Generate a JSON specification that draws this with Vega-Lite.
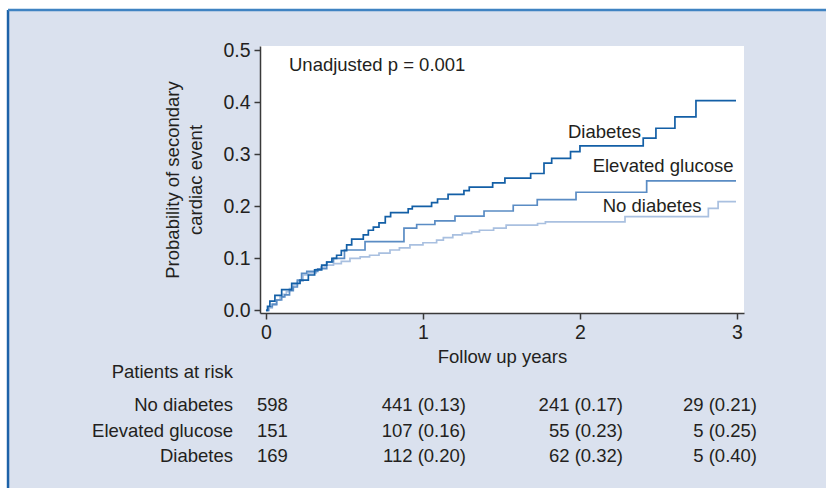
{
  "$schema": "https://vega.github.io/schema/vega-lite/v6.json",
  "width": 484,
  "height": 267,
  "autosize": "none",
  "padding": {"left": 260, "top": 46, "right": 82, "bottom": 175},
  "background": "white",
  "resolve": {"axis": {"x": "independent", "y": "independent"}},
  "config": {
    "font": "Liberation Sans, Arial, sans-serif",
    "view": {"stroke": null},
    "text": {"fontSize": 18.5, "color": "#231f20", "font": "Liberation Sans, Arial, sans-serif"},
    "axis": {
      "labelFont": "Liberation Sans, Arial, sans-serif",
      "titleFont": "Liberation Sans, Arial, sans-serif",
      "labelFontSize": 19.5, "titleFontSize": 18.5, "titleFontWeight": "normal",
      "labelColor": "#231f20", "titleColor": "#231f20",
      "domainColor": "#3a3a3a", "tickColor": "#3a3a3a",
      "domainWidth": 1.5, "tickWidth": 1.5, "tickSize": 6,
      "grid": false
    }
  },
  "datasets": {
    "curves": [
      {"group": "No diabetes", "year": 0, "prob": 0},
      {"group": "No diabetes", "year": 0.02, "prob": 0.005},
      {"group": "No diabetes", "year": 0.04, "prob": 0.01},
      {"group": "No diabetes", "year": 0.068, "prob": 0.02},
      {"group": "No diabetes", "year": 0.09, "prob": 0.026},
      {"group": "No diabetes", "year": 0.11, "prob": 0.031},
      {"group": "No diabetes", "year": 0.13, "prob": 0.036},
      {"group": "No diabetes", "year": 0.15, "prob": 0.042},
      {"group": "No diabetes", "year": 0.174, "prob": 0.049},
      {"group": "No diabetes", "year": 0.2, "prob": 0.056},
      {"group": "No diabetes", "year": 0.236, "prob": 0.068},
      {"group": "No diabetes", "year": 0.27, "prob": 0.072},
      {"group": "No diabetes", "year": 0.32, "prob": 0.079},
      {"group": "No diabetes", "year": 0.35, "prob": 0.083},
      {"group": "No diabetes", "year": 0.376, "prob": 0.087},
      {"group": "No diabetes", "year": 0.43, "prob": 0.09},
      {"group": "No diabetes", "year": 0.48, "prob": 0.094},
      {"group": "No diabetes", "year": 0.535, "prob": 0.1},
      {"group": "No diabetes", "year": 0.6, "prob": 0.103},
      {"group": "No diabetes", "year": 0.66, "prob": 0.106},
      {"group": "No diabetes", "year": 0.72, "prob": 0.11},
      {"group": "No diabetes", "year": 0.79, "prob": 0.116},
      {"group": "No diabetes", "year": 0.85, "prob": 0.12},
      {"group": "No diabetes", "year": 0.917, "prob": 0.126},
      {"group": "No diabetes", "year": 1.0, "prob": 0.13},
      {"group": "No diabetes", "year": 1.087, "prob": 0.135},
      {"group": "No diabetes", "year": 1.13, "prob": 0.14},
      {"group": "No diabetes", "year": 1.19, "prob": 0.145},
      {"group": "No diabetes", "year": 1.25, "prob": 0.148},
      {"group": "No diabetes", "year": 1.31, "prob": 0.151},
      {"group": "No diabetes", "year": 1.36, "prob": 0.154},
      {"group": "No diabetes", "year": 1.45, "prob": 0.158},
      {"group": "No diabetes", "year": 1.53, "prob": 0.164},
      {"group": "No diabetes", "year": 1.73, "prob": 0.167},
      {"group": "No diabetes", "year": 1.78, "prob": 0.17},
      {"group": "No diabetes", "year": 2.287, "prob": 0.18},
      {"group": "No diabetes", "year": 2.818, "prob": 0.196},
      {"group": "No diabetes", "year": 2.88, "prob": 0.209},
      {"group": "No diabetes", "year": 2.994, "prob": 0.209},
      {"group": "Elevated glucose", "year": 0, "prob": 0},
      {"group": "Elevated glucose", "year": 0.015, "prob": 0.007},
      {"group": "Elevated glucose", "year": 0.04, "prob": 0.012},
      {"group": "Elevated glucose", "year": 0.068, "prob": 0.02},
      {"group": "Elevated glucose", "year": 0.1, "prob": 0.026},
      {"group": "Elevated glucose", "year": 0.12, "prob": 0.03},
      {"group": "Elevated glucose", "year": 0.15, "prob": 0.038},
      {"group": "Elevated glucose", "year": 0.174, "prob": 0.045},
      {"group": "Elevated glucose", "year": 0.2, "prob": 0.058},
      {"group": "Elevated glucose", "year": 0.227, "prob": 0.071},
      {"group": "Elevated glucose", "year": 0.26, "prob": 0.075},
      {"group": "Elevated glucose", "year": 0.33, "prob": 0.08},
      {"group": "Elevated glucose", "year": 0.387, "prob": 0.093},
      {"group": "Elevated glucose", "year": 0.43, "prob": 0.1},
      {"group": "Elevated glucose", "year": 0.5, "prob": 0.116},
      {"group": "Elevated glucose", "year": 0.631, "prob": 0.132},
      {"group": "Elevated glucose", "year": 0.879, "prob": 0.158},
      {"group": "Elevated glucose", "year": 0.96, "prob": 0.165},
      {"group": "Elevated glucose", "year": 1.076, "prob": 0.172},
      {"group": "Elevated glucose", "year": 1.204, "prob": 0.181},
      {"group": "Elevated glucose", "year": 1.389, "prob": 0.191},
      {"group": "Elevated glucose", "year": 1.575, "prob": 0.202},
      {"group": "Elevated glucose", "year": 1.728, "prob": 0.213},
      {"group": "Elevated glucose", "year": 1.975, "prob": 0.227},
      {"group": "Elevated glucose", "year": 2.425, "prob": 0.249},
      {"group": "Elevated glucose", "year": 2.994, "prob": 0.249},
      {"group": "Diabetes", "year": 0, "prob": 0},
      {"group": "Diabetes", "year": 0.01, "prob": 0.008},
      {"group": "Diabetes", "year": 0.025, "prob": 0.018},
      {"group": "Diabetes", "year": 0.057, "prob": 0.029},
      {"group": "Diabetes", "year": 0.1, "prob": 0.04},
      {"group": "Diabetes", "year": 0.164, "prob": 0.052},
      {"group": "Diabetes", "year": 0.217, "prob": 0.058},
      {"group": "Diabetes", "year": 0.27, "prob": 0.068},
      {"group": "Diabetes", "year": 0.31, "prob": 0.078},
      {"group": "Diabetes", "year": 0.355, "prob": 0.087},
      {"group": "Diabetes", "year": 0.387, "prob": 0.093},
      {"group": "Diabetes", "year": 0.42, "prob": 0.1},
      {"group": "Diabetes", "year": 0.45, "prob": 0.106},
      {"group": "Diabetes", "year": 0.48, "prob": 0.115},
      {"group": "Diabetes", "year": 0.514, "prob": 0.126},
      {"group": "Diabetes", "year": 0.546, "prob": 0.137},
      {"group": "Diabetes", "year": 0.62, "prob": 0.145},
      {"group": "Diabetes", "year": 0.652, "prob": 0.154},
      {"group": "Diabetes", "year": 0.684, "prob": 0.16},
      {"group": "Diabetes", "year": 0.72, "prob": 0.168},
      {"group": "Diabetes", "year": 0.76, "prob": 0.18},
      {"group": "Diabetes", "year": 0.794, "prob": 0.188},
      {"group": "Diabetes", "year": 0.906, "prob": 0.195},
      {"group": "Diabetes", "year": 0.932, "prob": 0.2},
      {"group": "Diabetes", "year": 1.055, "prob": 0.207},
      {"group": "Diabetes", "year": 1.093, "prob": 0.214},
      {"group": "Diabetes", "year": 1.16, "prob": 0.223},
      {"group": "Diabetes", "year": 1.261, "prob": 0.23},
      {"group": "Diabetes", "year": 1.295, "prob": 0.237},
      {"group": "Diabetes", "year": 1.444, "prob": 0.245},
      {"group": "Diabetes", "year": 1.522, "prob": 0.254},
      {"group": "Diabetes", "year": 1.686, "prob": 0.263},
      {"group": "Diabetes", "year": 1.771, "prob": 0.283},
      {"group": "Diabetes", "year": 1.82, "prob": 0.292},
      {"group": "Diabetes", "year": 1.94, "prob": 0.305},
      {"group": "Diabetes", "year": 2.0, "prob": 0.316},
      {"group": "Diabetes", "year": 2.403, "prob": 0.331},
      {"group": "Diabetes", "year": 2.484, "prob": 0.35},
      {"group": "Diabetes", "year": 2.605, "prob": 0.372},
      {"group": "Diabetes", "year": 2.739, "prob": 0.403},
      {"group": "Diabetes", "year": 2.994, "prob": 0.403}
    ],
    "risk": [
      {"group": "No diabetes", "atStart": "598", "year1": "441 (0.13)", "year2": "241 (0.17)", "year3": "29 (0.21)"},
      {"group": "Elevated glucose", "atStart": "151", "year1": "107 (0.16)", "year2": "55 (0.23)", "year3": "5 (0.25)"},
      {"group": "Diabetes", "atStart": "169", "year1": "112 (0.20)", "year2": "62 (0.32)", "year3": "5 (0.40)"}
    ]
  },
  "layer": [
    {
      "data": {"values": [{}]},
      "mark": {"type": "rect", "fill": "#dae1ee"},
      "encoding": {
        "x": {"datum": -1.643, "axis": null}, "x2": {"datum": 3.8},
        "y": {"datum": 0.5772, "axis": null}, "y2": {"datum": -0.6}
      }
    },
    {
      "data": {"values": [{}]},
      "mark": {"type": "rule", "stroke": "#1d62a8", "strokeWidth": 2.5},
      "encoding": {
        "x": {"datum": -1.643, "axis": null},
        "y": {"datum": 0.5772, "axis": null}, "y2": {"datum": -0.6}
      }
    },
    {
      "data": {"values": [{}]},
      "mark": {"type": "rule", "stroke": "#3f83c2", "strokeWidth": 2.5},
      "encoding": {
        "x": {"datum": -1.643, "axis": null}, "x2": {"datum": 3.8},
        "y": {"datum": 0.5772, "axis": null}
      }
    },
    {
      "data": {"values": [{}]},
      "mark": {"type": "rect", "fill": "white"},
      "encoding": {
        "x": {"datum": -0.038, "axis": null}, "x2": {"datum": 3.045},
        "y": {"datum": -0.005, "axis": null}, "y2": {"datum": 0.508}
      }
    },
    {
      "data": {"name": "curves"},
      "mark": {"type": "line", "interpolate": "step-after", "strokeWidth": 1.7},
      "encoding": {
        "x": {"field": "year", "type": "quantitative",
          "scale": {"domain": [-0.038, 3.045], "nice": false, "zero": false},
          "axis": {"values": [0, 1, 2, 3], "format": "d", "title": "Follow up years", "labelPadding": 4, "titlePadding": 6, "zindex": 2}},
        "y": {"field": "prob", "type": "quantitative",
          "scale": {"domain": [-0.005, 0.508], "nice": false, "zero": false},
          "axis": {"values": [0, 0.1, 0.2, 0.3, 0.4, 0.5], "format": ".1f", "title": ["Probability of secondary", "cardiac event"], "labelPadding": 4, "titlePadding": 17, "titleLineHeight": 23, "zindex": 2}},
        "color": {"field": "group", "type": "nominal",
          "scale": {"domain": ["No diabetes", "Elevated glucose", "Diabetes"], "range": ["#a9c0e0", "#5a8cc4", "#135fa6"]},
          "legend": null},
        "order": {"field": "year"}
      }
    },
    {
      "data": {"values": [{}]},
      "mark": {"type": "text", "align": "left", "baseline": "middle", "text": "Unadjusted p = 0.001"},
      "encoding": {"x": {"datum": 0.1467, "axis": null}, "y": {"datum": 0.4715, "axis": null}}
    },
    {
      "data": {"values": [{}]},
      "mark": {"type": "text", "align": "left", "baseline": "middle", "text": "Diabetes"},
      "encoding": {"x": {"datum": 1.924, "axis": null}, "y": {"datum": 0.3433, "axis": null}}
    },
    {
      "data": {"values": [{}]},
      "mark": {"type": "text", "align": "left", "baseline": "middle", "text": "Elevated glucose"},
      "encoding": {"x": {"datum": 2.081, "axis": null}, "y": {"datum": 0.2774, "axis": null}}
    },
    {
      "data": {"values": [{}]},
      "mark": {"type": "text", "align": "left", "baseline": "middle", "text": "No diabetes"},
      "encoding": {"x": {"datum": 2.145, "axis": null}, "y": {"datum": 0.2006, "axis": null}}
    },
    {
      "data": {"values": [{}]},
      "mark": {"type": "text", "align": "right", "baseline": "middle", "text": "Patients at risk"},
      "encoding": {"x": {"datum": -0.21, "axis": null}, "y": {"datum": -0.1184, "axis": null}}
    },
    {
      "data": {"name": "risk"},
      "transform": [{"filter": "datum.group == 'No diabetes'"}],
      "encoding": {"y": {"datum": -0.1818, "axis": null}},
      "layer": [
        {"mark": {"type": "text", "align": "right", "baseline": "middle"}, "encoding": {"x": {"datum": -0.21, "axis": null}, "text": {"field": "group"}}},
        {"mark": {"type": "text", "align": "left", "baseline": "middle"}, "encoding": {"x": {"datum": -0.057, "axis": null}, "text": {"field": "atStart"}}},
        {"mark": {"type": "text", "align": "right", "baseline": "middle"}, "encoding": {"x": {"datum": 1.274, "axis": null}, "text": {"field": "year1"}}},
        {"mark": {"type": "text", "align": "right", "baseline": "middle"}, "encoding": {"x": {"datum": 2.274, "axis": null}, "text": {"field": "year2"}}},
        {"mark": {"type": "text", "align": "right", "baseline": "middle"}, "encoding": {"x": {"datum": 3.128, "axis": null}, "text": {"field": "year3"}}}
      ]
    },
    {
      "data": {"name": "risk"},
      "transform": [{"filter": "datum.group == 'Elevated glucose'"}],
      "encoding": {"y": {"datum": -0.2317, "axis": null}},
      "layer": [
        {"mark": {"type": "text", "align": "right", "baseline": "middle"}, "encoding": {"x": {"datum": -0.21, "axis": null}, "text": {"field": "group"}}},
        {"mark": {"type": "text", "align": "left", "baseline": "middle"}, "encoding": {"x": {"datum": -0.057, "axis": null}, "text": {"field": "atStart"}}},
        {"mark": {"type": "text", "align": "right", "baseline": "middle"}, "encoding": {"x": {"datum": 1.274, "axis": null}, "text": {"field": "year1"}}},
        {"mark": {"type": "text", "align": "right", "baseline": "middle"}, "encoding": {"x": {"datum": 2.274, "axis": null}, "text": {"field": "year2"}}},
        {"mark": {"type": "text", "align": "right", "baseline": "middle"}, "encoding": {"x": {"datum": 3.128, "axis": null}, "text": {"field": "year3"}}}
      ]
    },
    {
      "data": {"name": "risk"},
      "transform": [{"filter": "datum.group == 'Diabetes'"}],
      "encoding": {"y": {"datum": -0.2797, "axis": null}},
      "layer": [
        {"mark": {"type": "text", "align": "right", "baseline": "middle"}, "encoding": {"x": {"datum": -0.21, "axis": null}, "text": {"field": "group"}}},
        {"mark": {"type": "text", "align": "left", "baseline": "middle"}, "encoding": {"x": {"datum": -0.057, "axis": null}, "text": {"field": "atStart"}}},
        {"mark": {"type": "text", "align": "right", "baseline": "middle"}, "encoding": {"x": {"datum": 1.274, "axis": null}, "text": {"field": "year1"}}},
        {"mark": {"type": "text", "align": "right", "baseline": "middle"}, "encoding": {"x": {"datum": 2.274, "axis": null}, "text": {"field": "year2"}}},
        {"mark": {"type": "text", "align": "right", "baseline": "middle"}, "encoding": {"x": {"datum": 3.128, "axis": null}, "text": {"field": "year3"}}}
      ]
    }
  ]
}
